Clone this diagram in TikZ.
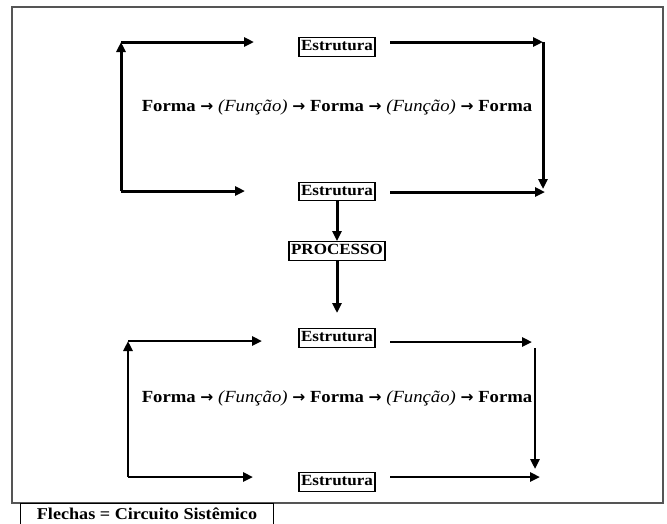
\documentclass[tikz,border=0pt]{standalone}
\usepackage{fontspec}
\setmainfont[FakeStretch=1.1]{Liberation Serif}
\newfontfamily\arrowfont{DejaVu Sans}
\usetikzlibrary{arrows.meta}
\definecolor{framegray}{HTML}{555555}
\newcommand{\fla}{\ {\arrowfont\bfseries\fontsize{15.5}{15.5}\selectfont\char"2192}\ }
\tikzset{
  arr/.style={line width=3pt,-{Triangle[length=10pt,width=9pt]}},
  arrthin/.style={line width=2.8pt,-{Triangle[length=10pt,width=9pt]}},
  box/.style={draw,line width=1.2pt,inner xsep=2pt,inner ysep=2pt,font=\fontsize{15.5}{15.5}\selectfont\bfseries,text height=11pt,text depth=3.5pt},
  flow/.style={font=\fontsize{17}{17}\selectfont\bfseries,inner sep=0pt},
}
\begin{document}
\begin{tikzpicture}[x=1pt,y=-1pt]
\useasboundingbox (0,0) rectangle (667,523);
\fill[white] (0,0) rectangle (667,523);
\begin{scope}
\clip (0,0) rectangle (667,523);
% outer frame
\draw[framegray,line width=2.2pt] (12,7) rectangle (663,503);
% legend
\node[draw,line width=1.2pt,minimum width=253pt,minimum height=24pt,anchor=north west,inner sep=0pt] (legend) at (20,503) {};
\node[anchor=center,font=\fontsize{16.5}{16.5}\selectfont\bfseries,inner sep=0pt] (legendtxt) at (147,514) {Flechas = Circuito Sistêmico};
\end{scope}

% ---- upper section ----
\node[box] (e1) at (337,47) {Estrutura};
\node[box] (e2) at (337,191.5) {Estrutura};
\node[flow] (f1) at (337,107) {Forma\fla\textit{\mdseries(Função)}\fla Forma\fla\textit{\mdseries(Função)}\fla Forma};
\coordinate (a1) at (121,191);
\coordinate (a2) at (121,42);
\coordinate (a3) at (254,42);
\coordinate (a4) at (390,42);
\coordinate (a5) at (543,42);
\coordinate (a6) at (543,189);
\coordinate (a7) at (245,191);
\coordinate (a8) at (390,192);
\coordinate (a9) at (545,192);
\draw[arr] (a1) -- (a2);
\draw[arr] (a2) -- (a3);
\draw[arr] (a4) -- (a5);
\draw[arr] (a5) -- (a6);
\draw[arr] (a1) -- (a7);
\draw[arr] (a8) -- (a9);

% ---- middle ----
\node[box] (proc) at (337,251) {PROCESSO};
\draw[arr] (e2.south) -- (proc.north);
\coordinate (p1) at (337,313);
\draw[arr] (proc.south) -- (p1);

% ---- lower section ----
\node[box] (e3) at (337,338) {Estrutura};
\node[box] (e4) at (337,482) {Estrutura};
\node[flow] (f2) at (337,398) {Forma\fla\textit{\mdseries(Função)}\fla Forma\fla\textit{\mdseries(Função)}\fla Forma};
\coordinate (b1) at (128,477);
\coordinate (b2) at (128,341);
\coordinate (b3) at (262,341);
\coordinate (b4) at (390,342);
\coordinate (b5) at (532,342);
\coordinate (b6) at (535,348);
\coordinate (b7) at (535,469);
\coordinate (b8) at (253,477);
\coordinate (b9) at (390,477);
\coordinate (b10) at (540,477);
\draw[arrthin] (b1) -- (b2);
\draw[arrthin] (b2) -- (b3);
\draw[arrthin] (b4) -- (b5);
\draw[arrthin] (b6) -- (b7);
\draw[arrthin] (b1) -- (b8);
\draw[arrthin] (b9) -- (b10);
\end{tikzpicture}
\end{document}
